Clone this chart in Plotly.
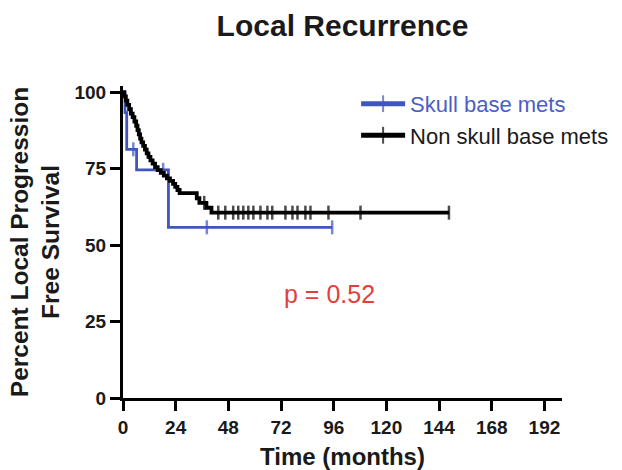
import plotly.graph_objects as go

# ---- data ----
sb_event_times = [0, 0.9, 1.7, 6.2, 20.7]
sb_survival = [100, 93.3, 81.3, 74.6, 55.8]
sb_censor_times = [4.7, 18.3, 38.2, 95.3]

nsb_event_times = [0, 0.6, 1.3, 2.0, 2.8, 3.6, 4.4, 5.2, 6.0, 6.6, 7.2, 7.8, 8.4, 9.2,
                   10.0, 10.8, 11.6, 12.5, 13.5, 14.6, 15.8, 17.2, 18.6, 20.0, 21.4,
                   22.8, 23.8, 24.8, 25.8, 33.6, 34.8, 38.0, 40.3]
nsb_survival = [100, 98.6, 97.2, 95.8, 94.4, 93.0, 91.8, 90.4, 89.0, 87.6, 86.2, 84.8,
                83.6, 82.4, 81.2, 80.0, 78.8, 77.7, 76.6, 75.5, 74.5, 73.6, 72.7, 71.8,
                71.0, 70.0, 69.0, 68.0, 67.0, 65.3, 63.8, 62.2, 60.6]
nsb_censor_times = [37.0, 43.4, 46.6, 50.2, 52.5, 54.8, 57.1, 59.4, 62.6, 65.8, 68.0,
                    74.0, 77.2, 79.5, 83.1, 85.4, 93.6, 108.2, 148.5]

x_ticks = [0, 24, 48, 72, 96, 120, 144, 168, 192]
y_ticks = [0, 25, 50, 75, 100]
p_text = "p = 0.52"

FONT = "Liberation Sans, Arial, sans-serif"
BLUE = "#3f55c0"
BLACK = "#000000"


def km_points(ev_t, ev_s, cens_t):
    pts = [(t, s, False) for t, s in zip(ev_t, ev_s)]
    for c in cens_t:
        s = ev_s[0]
        for t, v in zip(ev_t, ev_s):
            if t <= c:
                s = v
        pts.append((c, s, True))
    pts.sort(key=lambda p: (p[0], not p[2]))
    xs = [p[0] for p in pts]
    ys = [p[1] for p in pts]
    sizes = [10 if p[2] else 0 for p in pts]
    return xs, ys, sizes


fig = go.Figure()
for name, ev_t, ev_s, ct, col, lw in [
    ("<span style='color:#4a5ec6'>Skull base mets</span>", sb_event_times, sb_survival,
     sb_censor_times, BLUE, 2.8),
    ("Non skull base mets", nsb_event_times, nsb_survival, nsb_censor_times, BLACK, 3.8),
]:
    xs, ys, sizes = km_points(ev_t, ev_s, ct)
    fig.add_trace(go.Scatter(
        x=xs, y=ys, name=name, mode="lines+markers",
        line=dict(shape="hv", color=col, width=lw),
        marker=dict(symbol="line-ns", size=sizes, color=col,
                    line=dict(color=col, width=2.5)),
        hoverinfo="skip",
    ))

fig.add_annotation(x=94, y=34, xref="x", yref="y", text=p_text, showarrow=False,
                   font=dict(family=FONT, size=25, color="#e0403c"))

axis_common = dict(showline=True, linecolor="black", linewidth=3, ticks="outside",
                   ticklen=10, tickwidth=3, tickcolor="black", showgrid=False,
                   zeroline=False, tickfont=dict(family=FONT, size=19, color="#1a1a1a",
                                                 weight="bold"))

fig.update_layout(
    width=622, height=470,
    paper_bgcolor="white", plot_bgcolor="white",
    margin=dict(l=123, r=60, t=86, b=72, autoexpand=False),
    title=dict(text="<b>Local Recurrence</b>", x=0.5, xref="paper", y=1 - 25 / 470,
               yref="container", yanchor="middle",
               font=dict(family=FONT, size=30, color="#1a1a1a")),
    xaxis=dict(range=[0, 200], tickvals=x_ticks, ticktext=[str(v) for v in x_ticks],
               tickangle=0, automargin=False,
               title=dict(text="<b>Time (months)</b>", standoff=12,
                          font=dict(family=FONT, size=24, color="#1a1a1a")),
               **axis_common),
    yaxis=dict(range=[0, 102], tickvals=y_ticks, ticktext=[str(v) for v in y_ticks],
               automargin=False,
               title=dict(text="<b>Percent Local Progression<br>Free Survival</b>", standoff=8,
                          font=dict(family=FONT, size=24.5, color="#1a1a1a")),
               **axis_common),
    legend=dict(x=0.531, xref="paper", y=1.01, yref="paper",
                xanchor="left", yanchor="top", bgcolor="rgba(0,0,0,0)",
                itemsizing="constant", itemwidth=44, tracegroupgap=0,
                font=dict(family=FONT, size=22, color="#1a1a1a")),
    showlegend=True,
)

fig.write_html("out.html")
